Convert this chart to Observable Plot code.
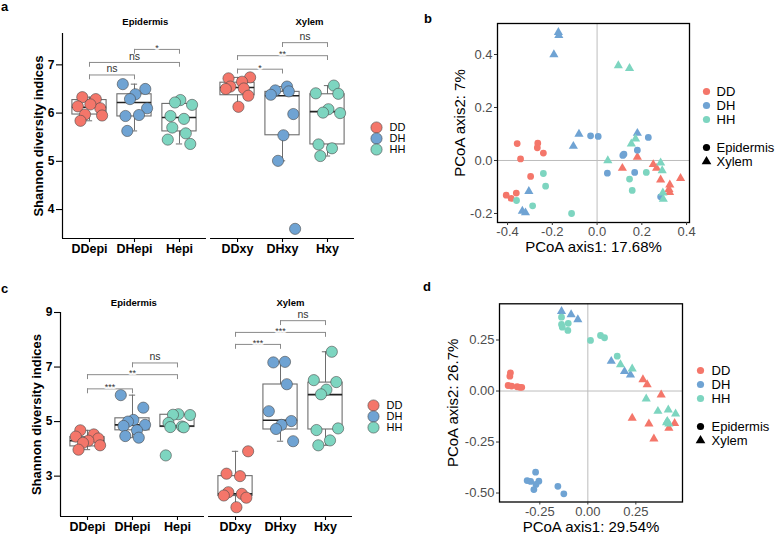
<!DOCTYPE html>
<html>
<head>
<meta charset="utf-8">
<script src="https://cdn.jsdelivr.net/npm/d3@7"></script>
<script src="https://cdn.jsdelivr.net/npm/@observablehq/plot@0.6"></script>
<style>
  body { margin: 0; background: #fff; font-family: "Liberation Sans", Arial, sans-serif; }
  #fig { position: relative; width: 778px; height: 535px; overflow: hidden; background: #fff; }
  .tag { position: absolute; font-weight: bold; font-size: 13px; line-height: 9px; color: #000; }
</style>
</head>
<body>
<div id="fig"></div>
<script>
// ---- shared categories ----
const genotypes = ["DD", "DH", "HH"];
const palette = ["#F4766A", "#6FA3D3", "#7DD5C0"];
const tissues = ["Epidermis", "Xylem"];
const groups = ["DDepi", "DHepi", "Hepi", "DDxy", "DHxy", "Hxy"];

// ---- panel a: Shannon diversity, per sample ----
const shannonA = [
  [6.33, 6.29, 6.14, 6.10, 6.18, 5.97, 5.95, 5.84],
  [6.60, 6.50, 6.39, 6.29, 6.10, 5.94, 5.96, 5.63],
  [6.27, 6.22, 6.17, 5.94, 5.88, 5.70, 5.58, 5.45, 5.36],
  [6.74, 6.72, 6.65, 6.55, 6.51, 6.50, 6.36, 6.13],
  [6.55, 6.47, 6.45, 6.38, 5.98, 5.54, 5.01, 3.60],
  [6.57, 6.41, 6.40, 6.08, 6.01, 6.00, 5.35, 5.27, 5.11]
];
const q1A  = [5.97, 5.93, 5.62, 6.37, 5.54, 5.35];
const medA = [6.12, 6.22, 5.91, 6.53, 6.36, 6.03];
const q3A  = [6.27, 6.39, 6.19, 6.63, 6.44, 6.39];
const loA  = [5.84, 5.63, 5.36, 6.13, 5.01, 5.11];
const hiA  = [6.33, 6.60, 6.27, 6.74, 6.55, 6.57];
const signifA = [
  { a: 0, b: 1, y: 6.79, label: "ns" },
  { a: 0, b: 2, y: 7.05, label: "ns" },
  { a: 1, b: 2, y: 7.32, label: "*" },
  { a: 3, b: 4, y: 6.91, label: "*" },
  { a: 3, b: 5, y: 7.19, label: "**" },
  { a: 4, b: 5, y: 7.46, label: "ns" }
];

// ---- panel c: Shannon diversity, per sample ----
const shannonC = [
  [4.68, 4.53, 4.45, 4.38, 4.30, 4.22, 4.13, 3.97],
  [5.97, 5.51, 5.06, 5.00, 4.88, 4.84, 4.68, 4.47, 4.41],
  [5.27, 5.25, 5.24, 4.95, 4.82, 4.80, 4.79, 3.76],
  [3.91, 3.09, 3.00, 2.41, 2.35, 2.29, 2.21, 1.86],
  [7.19, 7.17, 6.37, 5.38, 5.02, 4.88, 4.73, 4.28],
  [7.56, 6.52, 6.45, 6.17, 6.00, 4.75, 4.69, 4.31, 4.13]
];
const q1C  = [4.09, 4.68, 4.80, 2.27, 4.71, 4.71];
const medC = [4.30, 4.88, 4.84, 2.35, 5.05, 5.99];
const q3C  = [4.43, 5.12, 5.25, 3.00, 6.36, 6.43];
const loC  = [3.97, 4.41, 4.79, 1.86, 4.28, 4.13];
const hiC  = [4.68, 5.97, 5.27, 3.91, 7.19, 7.56];
const signifC = [
  { a: 0, b: 1, y: 6.20, label: "***" },
  { a: 0, b: 2, y: 6.72, label: "**" },
  { a: 1, b: 2, y: 7.15, label: "ns" },
  { a: 3, b: 4, y: 7.83, label: "***" },
  { a: 3, b: 5, y: 8.27, label: "***" },
  { a: 4, b: 5, y: 8.70, label: "ns" }
];

// ---- panel b: PCoA coordinates [axis1, axis2] ----
const bDDepi = [[-0.357, 0.064], [-0.342, 0.006], [-0.265, 0.065], [-0.267, 0.048], [-0.240, 0.028], [-0.297, -0.060], [-0.406, -0.131], [-0.384, -0.143], [-0.361, -0.123]];
const bDDxy  = [[0.180, 0.013], [0.113, -0.029], [0.251, -0.015], [0.266, -0.029], [0.284, -0.073], [0.373, -0.067], [0.325, -0.092], [0.321, -0.109], [0.324, -0.120]];
const bDHepi = [[-0.029, 0.093], [0.005, 0.091], [0.229, 0.087], [0.180, 0.039], [0.115, 0.019], [0.120, 0.024], [0.046, -0.048], [0.168, -0.045], [0.284, -0.137]];
const bDHxy  = [[-0.173, 0.484], [-0.171, 0.472], [-0.193, 0.400], [-0.081, 0.100], [-0.106, 0.054], [-0.305, -0.116], [-0.334, -0.191], [-0.320, -0.197], [0.180, 0.103]];
const bHHepi = [[-0.240, -0.049], [-0.230, -0.097], [-0.360, -0.151], [-0.288, -0.171], [-0.114, -0.200], [0.220, -0.045], [0.145, -0.070], [0.157, -0.113]];
const bHHxy  = [[0.095, 0.358], [0.145, 0.348], [0.172, 0.082], [0.153, 0.063], [0.048, 0.000], [0.284, -0.009], [0.291, -0.038], [0.294, -0.122], [0.296, -0.146]];

// ---- panel d: PCoA coordinates [axis1, axis2] ----
const dDDepi = [[-0.403, 0.089], [-0.406, 0.073], [-0.415, 0.027], [-0.397, 0.024], [-0.368, 0.021], [-0.354, 0.018], [-0.344, 0.018]];
const dDDxy  = [[0.287, 0.056], [0.309, 0.032], [0.382, -0.019], [0.231, -0.133], [0.318, -0.161], [0.344, -0.234], [0.422, -0.182], [0.452, -0.158]];
const dDHepi = [[-0.316, -0.439], [-0.298, -0.443], [-0.272, -0.398], [-0.255, -0.442], [-0.270, -0.458], [-0.281, -0.483], [-0.156, -0.467], [-0.125, -0.504]];
const dDHxy  = [[-0.137, 0.391], [-0.087, 0.375], [-0.052, 0.350], [0.122, 0.146], [0.191, 0.096], [0.222, 0.079]];
const dHHepi = [[-0.137, 0.362], [-0.137, 0.326], [-0.133, 0.313], [-0.102, 0.332], [-0.104, 0.297], [0.014, 0.248], [0.066, 0.272], [0.087, 0.261], [0.153, 0.171]];
const dHHxy  = [[0.170, 0.130], [0.231, 0.109], [0.304, -0.038], [0.365, -0.099], [0.419, -0.092], [0.457, -0.112], [0.414, -0.148], [0.422, -0.161], [0.410, -0.155]];

const pcoaAxesB = ["PCoA axis1: 17.68%", "PCoA axis2: 7%"];
const pcoaAxesD = ["PCoA axis1: 29.54%", "PCoA axis2: 26.7%"];

// ---------------------------------------------------------------
const fig = document.getElementById("fig");
const FONT = "'Liberation Sans', Arial, Helvetica, sans-serif";
const colorScale = { domain: genotypes, range: palette };
const symbolScale = { domain: tissues, range: ["circle", "triangle"] };

function place(node, left, top) {
  node.style.position = "absolute";
  node.style.left = left + "px";
  node.style.top = top + "px";
  fig.appendChild(node);
}
function tag(letter, left, top) {
  const d = document.createElement("div");
  d.className = "tag";
  d.textContent = letter;
  d.style.left = left + "px";
  d.style.top = top + "px";
  fig.appendChild(d);
}

// group centres along x: three per tissue, with a small gap between tissues
const gapUnits = 0.29;
const pos = groups.map((g, i) => (i % 3) + Math.floor(i / 3) * (3 + gapUnits));
const spans = tissues.map((t, k) => ({ x1: pos[k * 3] - 0.6, x2: pos[k * 3 + 2] + 0.6 }));
// horizontal spread of the sample dots around each group centre
const spread = [-0.16, 0.14, -0.26, 0.24, 0.02, -0.1, 0.28, -0.2, 0.1];

function boxPanel(o) {
  const { values, q1, med, q3, lo, hi, signif, yDomain, yTicks, drop } = o;
  const boxes = groups.map((g, i) => ({ x: pos[i], q1: q1[i], med: med[i], q3: q3[i], lo: lo[i], hi: hi[i] }));
  const dots = values.flatMap((vals, g) => vals.map((v, j) => ({
    x: pos[g] + spread[(j + g * 2) % spread.length], y: v, genotype: genotypes[g % 3]
  })));
  const ends = signif.flatMap(s => [s.a, s.b].map(k => ({ x: pos[k], y1: s.y, y2: s.y - drop })));
  const half = 0.38, cap = 0.07;
  return Plot.plot({
    width: o.width, height: o.height,
    marginLeft: o.marginLeft, marginRight: o.marginRight, marginTop: o.marginTop, marginBottom: o.marginBottom,
    x: { domain: [spans[0].x1, spans[1].x2] },
    y: { domain: yDomain },
    color: colorScale,
    style: { fontFamily: FONT, background: "transparent", overflow: "visible", color: "#000" },
    marks: [
      // axes
      Plot.ruleX([spans[0].x1], { y1: yDomain[0], y2: yDomain[1], stroke: "#000", strokeWidth: 1.2 }),
      Plot.ruleY(spans, { x1: "x1", x2: "x2", y: yDomain[0], stroke: "#000", strokeWidth: 1.2 }),
      Plot.axisY({ ticks: yTicks, tickFormat: d => String(d), tickSize: 6, tickPadding: 2, fontSize: 12, fontWeight: "bold", label: null, strokeWidth: 1.1 }),
      Plot.axisX({ ticks: pos, tickFormat: d => groups[pos.indexOf(d)], tickSize: 4, tickPadding: 2, fontSize: 12.5, fontWeight: "bold", label: null, strokeWidth: 1.1 }),
      Plot.text(["Shannon diversity indices"], { text: d => d, frameAnchor: "left", rotate: -90, dx: o.yTitleDx, textAnchor: "middle", lineAnchor: "middle", fontSize: 13, fontWeight: "bold" }),
      Plot.text(tissues, { text: d => d, x: (d, k) => pos[k * 3 + 1] + o.stripShift[k], frameAnchor: "top", dy: o.stripDy, lineAnchor: "middle", fontSize: 9.5, fontWeight: "bold" }),
      // box plots
      Plot.ruleX(boxes, { x: "x", y1: "lo", y2: "q1", stroke: "#6e6e6e" }),
      Plot.ruleX(boxes, { x: "x", y1: "q3", y2: "hi", stroke: "#6e6e6e" }),
      Plot.ruleY(boxes, { x1: d => d.x - cap, x2: d => d.x + cap, y: "lo", stroke: "#6e6e6e" }),
      Plot.ruleY(boxes, { x1: d => d.x - cap, x2: d => d.x + cap, y: "hi", stroke: "#6e6e6e" }),
      Plot.rect(boxes, { x1: d => d.x - half, x2: d => d.x + half, y1: "q1", y2: "q3", fill: "none", stroke: "#6e6e6e", strokeWidth: 1.1 }),
      Plot.ruleY(boxes, { x1: d => d.x - half, x2: d => d.x + half, y: "med", stroke: "#222", strokeWidth: 1.6 }),
      // samples
      Plot.dot(dots, { x: "x", y: "y", fill: "genotype", r: 5.6, stroke: "#4a4a4a", strokeWidth: 0.6 }),
      // significance brackets
      Plot.ruleY(signif, { x1: d => pos[d.a], x2: d => pos[d.b], y: "y", stroke: "#8a8a8a", strokeWidth: 1 }),
      Plot.ruleX(ends, { x: "x", y1: "y1", y2: "y2", stroke: "#8a8a8a", strokeWidth: 1 }),
      Plot.text(signif.filter(s => s.label === "ns"), { x: d => (pos[d.a] + pos[d.b]) / 2, y: "y", text: "label", dy: -6, fontSize: 10.5, fill: "#333" }),
      Plot.text(signif.filter(s => s.label !== "ns"), { x: d => (pos[d.a] + pos[d.b]) / 2, y: "y", text: "label", dy: -1.5, fontSize: 9, fill: "#333", stroke: "white", strokeWidth: 3 })
    ]
  });
}

function genotypeLegend(left, top) {
  const p = Plot.plot({
    width: 45, height: 42, margin: 0,
    x: { domain: [0, 1], range: [8, 40], axis: null },
    y: { type: "point", domain: genotypes, range: [8, 31.5], padding: 0, axis: null },
    color: colorScale,
    style: { fontFamily: FONT, background: "transparent", overflow: "visible" },
    marks: [
      Plot.dot(genotypes, { x: 0, y: d => d, fill: d => d, r: 5.6, stroke: "#4a4a4a", strokeWidth: 0.6 }),
      Plot.text(genotypes, { x: 0, y: d => d, text: d => d, dx: 13, textAnchor: "start", fontSize: 11, fill: "#000" })
    ]
  });
  place(p, left, top);
}

function pcoaPanel(o) {
  const series = [];
  o.sets.forEach(([pts, g, t]) => pts.forEach(([x, y]) => series.push({ x, y, genotype: g, tissue: t })));
  const fmt = d => d.toFixed(o.digits);
  return Plot.plot({
    width: o.width, height: o.height,
    marginLeft: o.marginLeft, marginRight: o.marginRight, marginTop: o.marginTop, marginBottom: o.marginBottom,
    x: { domain: o.xDomain },
    y: { domain: o.yDomain },
    color: colorScale,
    symbol: symbolScale,
    style: { fontFamily: FONT, background: "transparent", overflow: "visible", color: "#333" },
    marks: [
      Plot.ruleX([0], { stroke: "#bdbdbd", strokeWidth: 1 }),
      Plot.ruleY([0], { stroke: "#bdbdbd", strokeWidth: 1 }),
      Plot.dot(series, { x: "x", y: "y", fill: "genotype", symbol: "tissue", r: 3.4 }),
      Plot.frame({ stroke: "#000", strokeWidth: 1.3 }),
      Plot.axisX({ ticks: o.xTicks, tickFormat: fmt, tickSize: 3, tickPadding: 1.5, fontSize: 13, fill: "#4d4d4d", label: null }),
      Plot.axisY({ ticks: o.yTicks, tickFormat: fmt, tickSize: 3, tickPadding: 2, fontSize: 13, fill: "#4d4d4d", label: null }),
      Plot.text([o.titles[0]], { text: d => d, frameAnchor: "bottom", dy: o.xTitleDy, lineAnchor: "middle", textAnchor: "middle", fontSize: 15, fill: "#000" }),
      Plot.text([o.titles[1]], { text: d => d, frameAnchor: "left", rotate: -90, dx: o.yTitleDx, lineAnchor: "middle", textAnchor: "middle", fontSize: 15, fill: "#000" })
    ]
  });
}

function pcoaLegend(left, top, spacing, textDx) {
  const rows = ["DD", "DH", "HH", "", "Epidermis", "Xylem"];
  const p = Plot.plot({
    width: 90, height: 95, margin: 0,
    x: { domain: [0, 1], range: [11, 80], axis: null },
    y: { type: "point", domain: rows, range: [9, 9 + spacing * 5], padding: 0, axis: null },
    color: colorScale,
    symbol: symbolScale,
    style: { fontFamily: FONT, background: "transparent", overflow: "visible" },
    marks: [
      Plot.dot(genotypes, { x: 0, y: d => d, fill: d => d, r: 3.6 }),
      Plot.dot(tissues, { x: 0, y: d => d, symbol: d => d, fill: "#000", r: 3.6 }),
      Plot.text(rows.filter(r => r), { x: 0, y: d => d, text: d => d, dx: textDx, textAnchor: "start", fontSize: 13, fill: "#000" })
    ]
  });
  place(p, left, top);
}

// ---- a ----
place(boxPanel({
  values: shannonA, q1: q1A, med: medA, q3: q3A, lo: loA, hi: hiA, signif: signifA,
  yDomain: [3.4, 7.65], yTicks: [4, 5, 6, 7], drop: 0.1,
  width: 375, height: 262, marginLeft: 62, marginRight: 21, marginTop: 33, marginBottom: 24,
  yTitleDx: -24, stripDy: -12, stripShift: [0.24, 0.6]
}), 0, 0);
genotypeLegend(368, 118);

// ---- c ----
place(boxPanel({
  values: shannonC, q1: q1C, med: medC, q3: q3C, lo: loC, hi: hiC, signif: signifC,
  yDomain: [1.52, 9], yTicks: [3, 5, 7, 9], drop: 0.18,
  width: 375, height: 275, marginLeft: 60, marginRight: 23, marginTop: 52, marginBottom: 19,
  yTitleDx: -24, stripDy: -10, stripShift: [0.03, 0.22]
}), 0, 260);
genotypeLegend(365, 396);

// ---- b ----
place(pcoaPanel({
  sets: [[bDDepi, "DD", "Epidermis"], [bDDxy, "DD", "Xylem"], [bDHepi, "DH", "Epidermis"],
         [bDHxy, "DH", "Xylem"], [bHHepi, "HH", "Epidermis"], [bHHxy, "HH", "Xylem"]],
  xDomain: [-0.445, 0.413], yDomain: [-0.234, 0.517],
  xTicks: [-0.4, -0.2, 0, 0.2, 0.4], yTicks: [-0.2, 0, 0.2, 0.4], digits: 1, titles: pcoaAxesB,
  width: 398, height: 262, marginLeft: 117, marginRight: 89, marginTop: 23, marginBottom: 40,
  xTitleDy: 25, yTitleDx: -37
}), 380, 0);
pcoaLegend(695, 80, 14.6, 10);

// ---- d ----
place(pcoaPanel({
  sets: [[dDDepi, "DD", "Epidermis"], [dDDxy, "DD", "Xylem"], [dDHepi, "DH", "Epidermis"],
         [dDHxy, "DH", "Xylem"], [dHHepi, "HH", "Epidermis"], [dHHxy, "HH", "Xylem"]],
  xDomain: [-0.46, 0.493], yDomain: [-0.544, 0.4275],
  xTicks: [-0.25, 0, 0.25], yTicks: [-0.5, -0.25, 0, 0.25], digits: 2, titles: pcoaAxesD,
  width: 398, height: 273, marginLeft: 119, marginRight: 96, marginTop: 41.3, marginBottom: 33.5,
  xTitleDy: 25, yTitleDx: -46
}), 380, 262);
pcoaLegend(689, 360, 14.5, 11);

// panel letters
tag("a", 1, 2);
tag("b", 424, 14);
tag("c", 1, 284);
tag("d", 423, 282);
</script>
</body>
</html>
